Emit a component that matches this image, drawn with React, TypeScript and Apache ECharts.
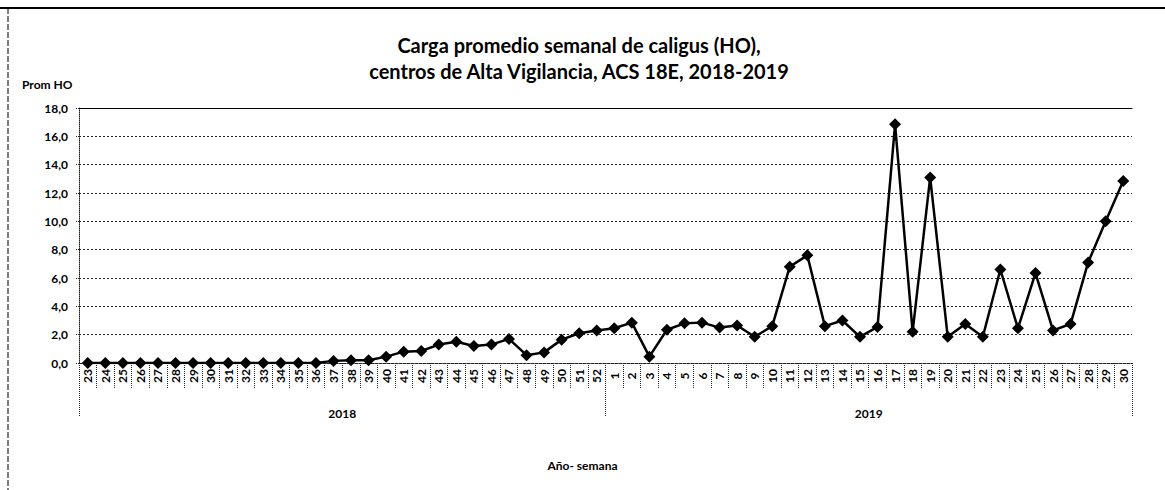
import React, { useEffect, useRef } from "react";
import * as echarts from "echarts";

const weeks2018 = ["23","24","25","26","27","28","29","30","31","32","33","34","35","36","37","38","39","40","41","42","43","44","45","46","47","48","49","50","51","52"];
const weeks2019 = ["1","2","3","4","5","6","7","8","9","10","11","12","13","14","15","16","17","18","19","20","21","22","23","24","25","26","27","28","29","30"];
const values2018 = [0,0,0,0,0,0,0,0,0,0,0,0,0,0,0.15,0.2,0.2,0.45,0.8,0.85,1.3,1.5,1.2,1.3,1.7,0.55,0.75,1.65,2.1,2.3];
const values2019 = [2.45,2.85,0.45,2.35,2.8,2.85,2.5,2.65,1.85,2.6,6.8,7.6,2.6,3.0,1.85,2.55,16.85,2.2,13.1,1.85,2.75,1.85,6.6,2.45,6.35,2.3,2.75,7.1,10.0,12.85];
const years = ["2018", "2019"];
const titleLines = ["Carga promedio semanal de caligus (HO),", "centros de Alta Vigilancia, ACS 18E, 2018-2019"];
const yAxisName = "Prom HO";
const xAxisName = "Año- semana";

export default function App() {
  const ref = useRef<HTMLDivElement>(null);
  useEffect(() => {
    if (!ref.current) return;
    const chart = echarts.init(ref.current, null, { renderer: "svg" });
    const font = "Lato";
    const categories = [...weeks2018, ...weeks2019];
    const values = [...values2018, ...values2019];
    chart.setOption({
      animation: false,
      backgroundColor: "#fff",
      textStyle: { fontFamily: font, color: "#000" },
      title: {
        text: titleLines.join("\n"),
        left: 574,
        top: 27,
        textAlign: "center",
        textStyle: { fontFamily: font, fontSize: 20, fontWeight: "bold", color: "#000", lineHeight: 26 },
      },
      grid: { left: 79, right: 33, top: 108, bottom: 127, containLabel: false },
      xAxis: [
        {
          type: "category",
          data: categories,
          boundaryGap: true,
          axisLine: { show: true, lineStyle: { color: "#222", type: "dotted", width: 1 } },
          axisTick: { show: true, interval: 0, length: 25, lineStyle: { color: "#222", type: "dotted" } },
          axisLabel: { interval: 0, rotate: 90, align: "center", margin: 13, fontFamily: font, fontSize: 12, fontWeight: "bold", color: "#000" },
          splitLine: { show: false },
        },
        {
          type: "category",
          data: years,
          position: "bottom",
          boundaryGap: true,
          axisLine: { show: false },
          axisTick: { show: true, interval: 0, length: 54, lineStyle: { color: "#222", type: "dotted" } },
          axisLabel: { interval: 0, margin: 44, fontFamily: font, fontSize: 12, fontWeight: "bold", color: "#000" },
          splitLine: { show: false },
        },
        {
          type: "category",
          data: years,
          position: "top",
          axisLine: { show: true, lineStyle: { color: "#000", width: 1 } },
          axisTick: { show: false },
          axisLabel: { show: false },
        },
      ],
      yAxis: {
        type: "value",
        min: 0,
        max: 18,
        interval: 2,
        name: yAxisName,
        nameLocation: "end",
        nameGap: 18,
        nameTextStyle: { fontFamily: font, fontSize: 12, fontWeight: "bold", color: "#000", align: "left", padding: [0, 0, 0, -57] },
        axisLine: { show: true, lineStyle: { color: "#222", type: "dotted" } },
        axisTick: { show: true, length: 4, lineStyle: { color: "#222", type: "dotted" } },
        axisLabel: {
          margin: 11,
          fontFamily: font,
          fontSize: 12,
          fontWeight: "bold",
          color: "#000",
          formatter: (v: number) => v.toFixed(1).replace(".", ","),
        },
        splitLine: { show: true, lineStyle: { color: "#222", type: [2, 2], width: 1 } },
      },
      series: [
        {
          type: "line",
          data: values,
          xAxisIndex: 0,
          symbol: "diamond",
          symbolSize: 12,
          lineStyle: { color: "#000", width: 2.5 },
          itemStyle: { color: "#000" },
        },
      ],
      graphic: [
        { type: "line", shape: { x1: 0, y1: 8, x2: 1165, y2: 8 }, style: { stroke: "#000", lineWidth: 2 } },
        { type: "line", shape: { x1: 8, y1: 8, x2: 8, y2: 490 }, style: { stroke: "#000", lineWidth: 1, lineDash: [6, 2] } },
        {
          type: "text",
          left: "center",
          style: { text: xAxisName, fontFamily: font, fontSize: 12, fontWeight: "bold", fill: "#000" },
          top: 459,
        },
      ],
    });
    return () => chart.dispose();
  }, []);
  return <div ref={ref} style={{ position: "absolute", left: 0, top: 0, width: 1165, height: 490 }} />;
}
